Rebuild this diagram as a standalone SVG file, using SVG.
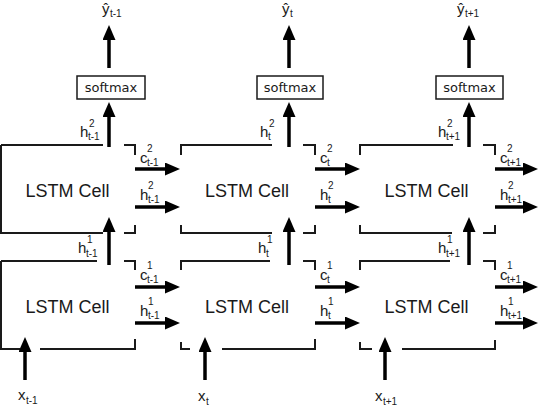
<svg xmlns="http://www.w3.org/2000/svg" width="540" height="406" viewBox="0 0 540 406">
<style>
.br{fill:none;stroke:#1a1a1a;stroke-width:2}
.ar{fill:none;stroke:#000;stroke-width:3.5}
.sbox{fill:#fff;stroke:#1a1a1a;stroke-width:1.5}
.lb{font-family:"Liberation Sans",Arial,sans-serif;font-size:15px;fill:#1a1a1a}
.s{font-size:10px}
.cell{font-family:"Liberation Sans",Arial,sans-serif;font-size:18px;text-anchor:middle;fill:#1a1a1a}
.sm{font-family:"DejaVu Sans",Verdana,sans-serif;font-size:13px;text-anchor:middle;fill:#1a1a1a}
</style>
<defs>
<marker id="ah" markerUnits="userSpaceOnUse" markerWidth="15" markerHeight="13" viewBox="0 0 15 13" refX="0" refY="6.5" orient="auto">
<path d="M0,0 L15,6.5 L0,13 z" fill="#000"/>
</marker>
</defs>
<rect width="540" height="406" fill="#fff"/>

<g id="cell-l2-t-1">
<path class="br" d="M1,145 V233 H103 M1,145 H103 M124,145 H135 V155 M124,233 H135 V225"/>
<text class="cell" x="67.5" y="197">LSTM Cell</text>
</g>
<g id="cell-l1-t-1">
<path class="br" d="M1,261 V349 H20 M40,349 H135 V339 M1,261 H97 M124,261 H135 V270"/>
<text class="cell" x="67.5" y="313">LSTM Cell</text>
</g>
<g id="cell-l2-t">
<path class="br" d="M181,155 V145 H272 M303,145 H315 V155 M181,225 V233 H272 M303,233 H315 V225"/>
<text class="cell" x="247" y="197">LSTM Cell</text>
</g>
<g id="cell-l1-t">
<path class="br" d="M181,270 V261 H270 M303,261 H315 V270 M181,342 V349 H190 M222,349 H315 V339"/>
<text class="cell" x="247" y="313">LSTM Cell</text>
</g>
<g id="cell-l2-t1">
<path class="br" d="M360,155 V145 H453 M483,145 H495 V155 M360,225 V233 H452 M483,233 H495 V225"/>
<text class="cell" x="426.5" y="197">LSTM Cell</text>
</g>
<g id="cell-l1-t1">
<path class="br" d="M360,270 V261 H450 M483,261 H495 V270 M360,342 V349 H372 M402,349 H495 V340"/>
<text class="cell" x="426.5" y="313">LSTM Cell</text>
</g>

<g id="softmax-t-1">
<rect class="sbox" x="77" y="76" width="68" height="23"/>
<text class="sm" x="111" y="92">softmax</text>
</g>
<g id="softmax-t">
<rect class="sbox" x="257" y="76" width="66" height="23"/>
<text class="sm" x="290" y="92">softmax</text>
</g>
<g id="softmax-t1">
<rect class="sbox" x="436" y="76" width="67" height="23"/>
<text class="sm" x="469.5" y="92">softmax</text>
</g>

<g id="connectors">
<path class="ar" marker-end="url(#ah)" d="M109,68 V40"/>
<path class="ar" marker-end="url(#ah)" d="M109,147 V117"/>
<path class="ar" marker-end="url(#ah)" d="M109,265 V232"/>
<path class="ar" marker-end="url(#ah)" d="M25,380 V352"/>
<path class="ar" marker-end="url(#ah)" d="M289,68 V40"/>
<path class="ar" marker-end="url(#ah)" d="M289,147 V117"/>
<path class="ar" marker-end="url(#ah)" d="M289,265 V232"/>
<path class="ar" marker-end="url(#ah)" d="M205,380 V352"/>
<path class="ar" marker-end="url(#ah)" d="M469,68 V40"/>
<path class="ar" marker-end="url(#ah)" d="M469,147 V117"/>
<path class="ar" marker-end="url(#ah)" d="M469,265 V232"/>
<path class="ar" marker-end="url(#ah)" d="M385,380 V352"/>
<path class="ar" marker-end="url(#ah)" d="M135,169 H165"/>
<path class="ar" marker-end="url(#ah)" d="M135,207 H165"/>
<path class="ar" marker-end="url(#ah)" d="M135,287 H165"/>
<path class="ar" marker-end="url(#ah)" d="M135,323 H165"/>
<path class="ar" marker-end="url(#ah)" d="M315,169 H345"/>
<path class="ar" marker-end="url(#ah)" d="M315,207 H345"/>
<path class="ar" marker-end="url(#ah)" d="M315,287 H345"/>
<path class="ar" marker-end="url(#ah)" d="M315,323 H345"/>
<path class="ar" marker-end="url(#ah)" d="M495,169 H523"/>
<path class="ar" marker-end="url(#ah)" d="M495,207 H523"/>
<path class="ar" marker-end="url(#ah)" d="M495,287 H523"/>
<path class="ar" marker-end="url(#ah)" d="M495,323 H523"/>
</g>

<g id="labels">
<text class="lb" x="102" y="14">ŷ<tspan class="s" x="110" y="17">t-1</tspan></text>
<text class="lb" x="282" y="14">ŷ<tspan class="s" x="290" y="17">t</tspan></text>
<text class="lb" x="457" y="14">ŷ<tspan class="s" x="465" y="17">t+1</tspan></text>

<text class="lb" x="80" y="137">h<tspan class="s" x="89" y="127">2</tspan><tspan class="s" x="88" y="140">t-1</tspan></text>
<text class="lb" x="260" y="137">h<tspan class="s" x="269" y="127">2</tspan><tspan class="s" x="268" y="140">t</tspan></text>
<text class="lb" x="438" y="137">h<tspan class="s" x="447" y="127">2</tspan><tspan class="s" x="446" y="140">t+1</tspan></text>

<text class="lb" x="78" y="253">h<tspan class="s" x="87" y="243">1</tspan><tspan class="s" x="86" y="257">t-1</tspan></text>
<text class="lb" x="258" y="253">h<tspan class="s" x="267" y="243">1</tspan><tspan class="s" x="266" y="257">t</tspan></text>
<text class="lb" x="438" y="253">h<tspan class="s" x="447" y="243">1</tspan><tspan class="s" x="446" y="257">t+1</tspan></text>

<text class="lb" x="140" y="163">c<tspan class="s" x="147" y="152">2</tspan><tspan class="s" x="147" y="166">t-1</tspan></text>
<text class="lb" x="140" y="200">h<tspan class="s" x="148" y="189">2</tspan><tspan class="s" x="148" y="203">t-1</tspan></text>
<text class="lb" x="140" y="280">c<tspan class="s" x="147" y="269">1</tspan><tspan class="s" x="147" y="283">t-1</tspan></text>
<text class="lb" x="140" y="316">h<tspan class="s" x="148" y="305">1</tspan><tspan class="s" x="148" y="319">t-1</tspan></text>

<text class="lb" x="320" y="163">c<tspan class="s" x="327" y="152">2</tspan><tspan class="s" x="327" y="166">t</tspan></text>
<text class="lb" x="320" y="200">h<tspan class="s" x="328" y="189">2</tspan><tspan class="s" x="328" y="203">t</tspan></text>
<text class="lb" x="320" y="280">c<tspan class="s" x="327" y="269">1</tspan><tspan class="s" x="327" y="283">t</tspan></text>
<text class="lb" x="320" y="316">h<tspan class="s" x="328" y="305">1</tspan><tspan class="s" x="328" y="319">t</tspan></text>

<text class="lb" x="500" y="163">c<tspan class="s" x="507" y="152">2</tspan><tspan class="s" x="507" y="166">t+1</tspan></text>
<text class="lb" x="500" y="200">h<tspan class="s" x="508" y="189">2</tspan><tspan class="s" x="508" y="203">t+1</tspan></text>
<text class="lb" x="500" y="280">c<tspan class="s" x="507" y="269">1</tspan><tspan class="s" x="507" y="283">t+1</tspan></text>
<text class="lb" x="500" y="316">h<tspan class="s" x="508" y="305">1</tspan><tspan class="s" x="508" y="319">t+1</tspan></text>

<text class="lb" x="18" y="400">x<tspan class="s" x="26" y="404">t-1</tspan></text>
<text class="lb" x="198" y="401">x<tspan class="s" x="206" y="405">t</tspan></text>
<text class="lb" x="375" y="401">x<tspan class="s" x="383" y="405">t+1</tspan></text>
</g>
</svg>
